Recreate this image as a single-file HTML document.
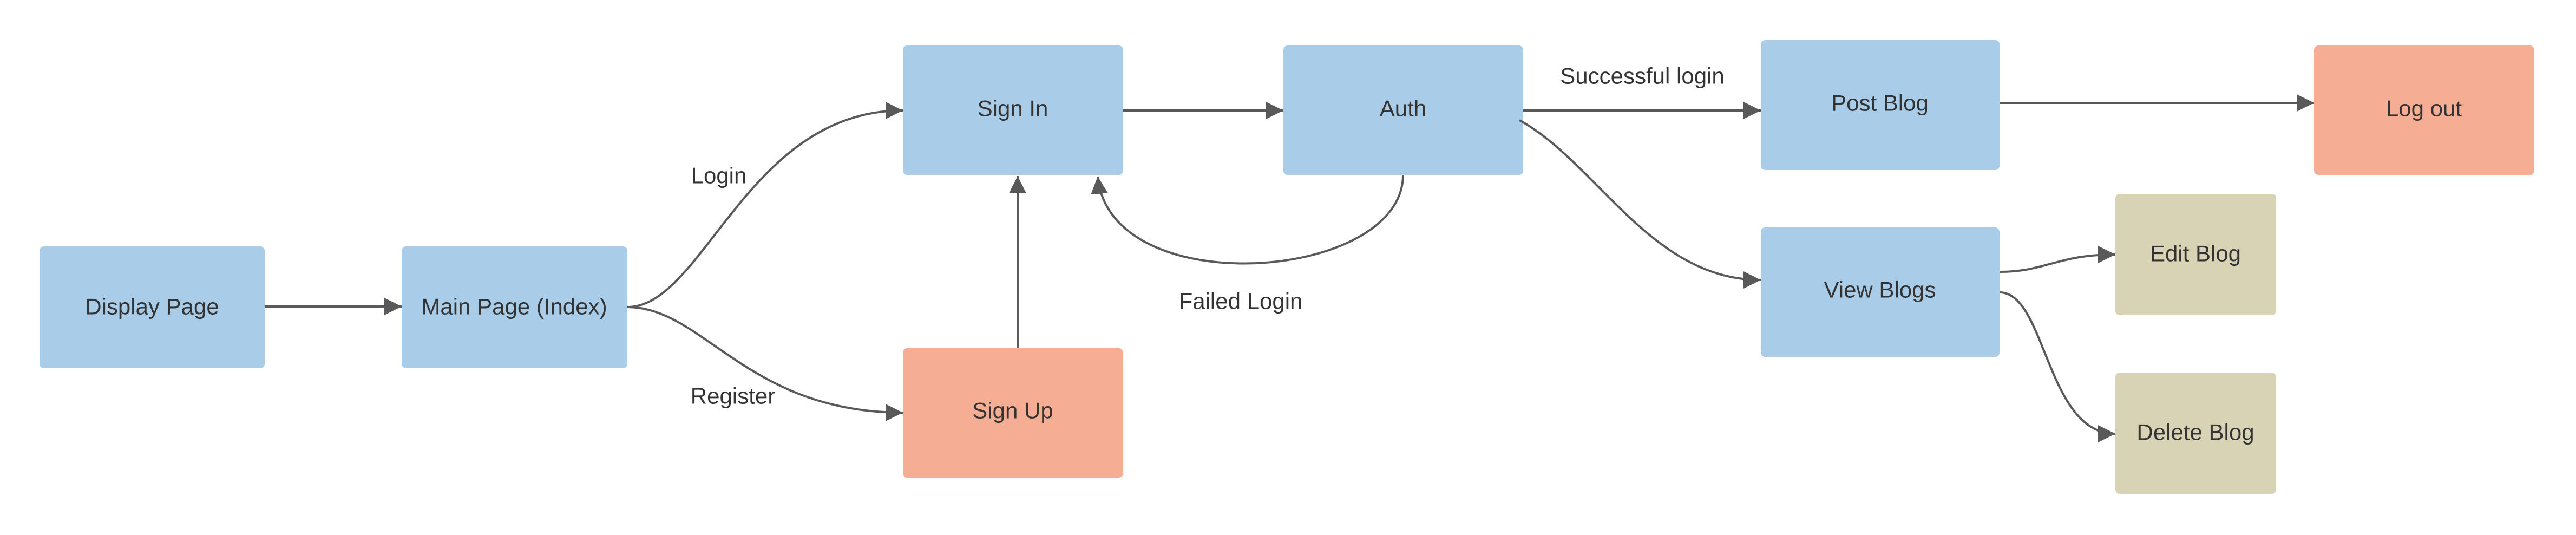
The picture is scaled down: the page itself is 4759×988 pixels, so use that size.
<!DOCTYPE html>
<html><head><meta charset="utf-8"><style>
html,body{margin:0;padding:0;background:#fff;}
svg{display:block;}
text{font-family:"Liberation Sans",sans-serif;font-size:42px;fill:#333;}
</style></head><body>
<svg width="4759" height="988" viewBox="0 0 4759 988" xmlns="http://www.w3.org/2000/svg">
<defs><marker id="a" markerWidth="8" markerHeight="8" refX="7" refY="4" orient="auto" markerUnits="userSpaceOnUse" viewBox="0 0 8 8"><path d="M0,0 L8,4 L0,8 z" fill="#595959"/></marker>
<marker id="b" viewBox="0 0 10 10" refX="10" refY="5" markerWidth="32" markerHeight="32" markerUnits="userSpaceOnUse" orient="auto"><path d="M0,0 L10,5 L0,10 z" fill="#595959"/></marker></defs>
<g fill="#a9cde8">
<rect x="73" y="455" width="416" height="225" rx="8"/>
<rect x="742" y="455" width="417" height="225" rx="8"/>
<rect x="1668" y="84" width="407" height="239" rx="8"/>
<rect x="2371" y="84" width="443" height="239" rx="8"/>
<rect x="3253" y="74" width="441" height="240" rx="8"/>
<rect x="3253" y="420" width="441" height="239" rx="8"/>
</g>
<g fill="#f5ae94">
<rect x="1668" y="643" width="407" height="239" rx="8"/>
<rect x="4275" y="84" width="407" height="239" rx="8"/>
</g>
<g fill="#d9d3b5">
<rect x="3908" y="358" width="297" height="224" rx="8"/>
<rect x="3908" y="688" width="297" height="224" rx="8"/>
</g>
<g fill="none" stroke="#595959" stroke-width="4" marker-end="url(#b)">
<path d="M489,566 L742,566"/>
<path d="M1159,567 C1300,567 1380,204 1668,204"/>
<path d="M1159,567 C1300,567 1380,762 1668,762"/>
<path d="M2075,204 L2371,204"/>
<path d="M1880,643 L1880,325"/>
<path d="M2592,323 C2592,520 2050,560 2028,326"/>
<path d="M2814,204 L3253,204"/>
<path d="M2807,222 C2950,300 3050,517 3253,517"/>
<path d="M3694,190 L4275,190"/>
<path d="M3694,502 C3780,502 3800,470 3908,470"/>
<path d="M3694,540 C3780,540 3780,801 3908,801"/>
</g>
<g text-anchor="middle" dominant-baseline="central">
<text x="281" y="566">Display Page</text>
<text x="950" y="566">Main Page (Index)</text>
<text x="1871" y="200">Sign In</text>
<text x="1871" y="758">Sign Up</text>
<text x="2592" y="200">Auth</text>
<text x="3473" y="190">Post Blog</text>
<text x="3473" y="535">View Blogs</text>
<text x="4478" y="200">Log out</text>
<text x="4056" y="468">Edit Blog</text>
<text x="4056" y="798">Delete Blog</text>
<text x="1328" y="324">Login</text>
<text x="1354" y="731">Register</text>
<text x="2292" y="556">Failed Login</text>
<text x="3034" y="140">Successful login</text>
</g>
</svg>
</body></html>
